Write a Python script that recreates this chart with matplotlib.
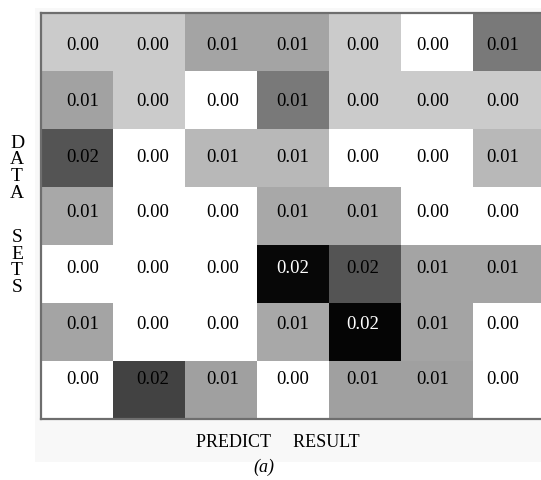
import numpy as np
import matplotlib
matplotlib.use("Agg")
import matplotlib.pyplot as plt
from matplotlib.colors import LinearSegmentedColormap
from matplotlib.patches import Rectangle

# Estimated underlying values (displayed rounded to 2 decimals)
row0 = [0.0047, 0.0047, 0.0081, 0.0081, 0.0047, 0.0000, 0.0120]
row1 = [0.0083, 0.0047, 0.0000, 0.0120, 0.0047, 0.0047, 0.0047]
row2 = [0.0153, 0.0000, 0.0064, 0.0064, 0.0000, 0.0000, 0.0064]
row3 = [0.0078, 0.0000, 0.0000, 0.0078, 0.0078, 0.0000, 0.0000]
row4 = [0.0000, 0.0000, 0.0000, 0.0222, 0.0153, 0.0081, 0.0081]
row5 = [0.0081, 0.0000, 0.0000, 0.0078, 0.0225, 0.0081, 0.0000]
row6 = [0.0000, 0.0169, 0.0085, 0.0000, 0.0085, 0.0085, 0.0000]
values = np.array([row0, row1, row2, row3, row4, row5, row6])

y_label_letters = ["D", "A", "T", "A", "S", "E", "T", "S"]
x_label = "PREDICT     RESULT"
caption = "(a)"

W, H = 541, 481
fig = plt.figure(figsize=(W / 100, H / 100), dpi=100)
fig.patch.set_facecolor("white")

# faint scanned-panel background
fig.patches.append(Rectangle((35 / W, 1 - 463 / H), (W - 35) / W, (463 - 9) / H,
                             transform=fig.transFigure, facecolor="#f8f8f8",
                             edgecolor="none", zorder=-10))

ax = fig.add_axes([41 / W, 1 - 420 / H, 504 / W, 406 / H])
ax.set_zorder(5)
cmap = LinearSegmentedColormap.from_list("g", ["#ffffff", "#050505"])
ax.imshow(values, cmap=cmap, vmin=0, vmax=0.0225, aspect="auto",
          interpolation="nearest")

serif = ["Liberation Serif", "DejaVu Serif"]
n = values.shape[0]
for i in range(n):
    for j in range(values.shape[1]):
        v = values[i, j]
        col = "white" if v > 0.02 else "black"
        ax.text(0.083 + 0.972 * j, 0.05 + 0.96 * i, f"{v:.2f}",
                ha="center", va="center", fontsize=13.5, color=col,
                family=serif)

ax.set_xticks([])
ax.set_yticks([])
for s in ax.spines.values():
    s.set_color("#6e6e6e")
    s.set_linewidth(1.6)

# vertical stacked y label
ys = [143 + 16.8 * k for k in range(4)] + [238 + 16.4 * k for k in range(4)]
for letter, yy in zip(y_label_letters, ys):
    fig.text(17 / W, 1 - yy / H, letter, ha="center", va="center",
             fontsize=14, family=serif, zorder=6)

fig.text(278 / W, 1 - 443 / H, x_label, ha="center", va="center",
         fontsize=13, family=serif, zorder=6)
fig.text(264 / W, 1 - 467 / H, caption, ha="center", va="center",
         fontsize=13, family=serif, style="italic", zorder=6)

fig.savefig("out.png", dpi=100)
